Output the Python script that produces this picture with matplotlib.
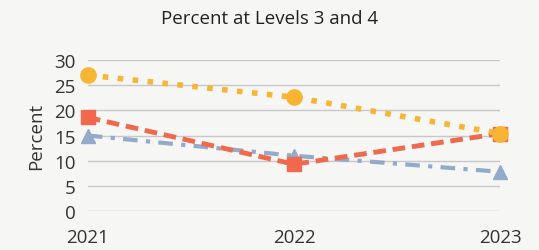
import matplotlib.pyplot as plt

years = ["2021", "2022", "2023"]
orange_vals = [27.0, 22.6, 15.4]
red_vals = [18.6, 9.3, 15.4]
blue_vals = [15.0, 11.0, 7.8]
yticks = [0, 5, 10, 15, 20, 25, 30]

plt.rcParams["font.family"] = ["Open Sans", "DejaVu Sans"]

fig = plt.figure(figsize=(5.39, 2.51), dpi=100, facecolor="#f6f6f5")
ax = fig.add_axes([0.163, 0.155, 0.765, 0.602])
ax.set_facecolor("#f6f6f5")

x = range(len(years))
ax.plot(x, blue_vals, color="#93aacb", lw=3, ls=(0, (3.5, 2, 1, 2)),
        marker="^", ms=10, clip_on=False, zorder=3)
ax.plot(x, red_vals, color="#f0694c", lw=3.5, ls=(0, (2.6, 1.4)),
        marker="s", ms=10, clip_on=False, zorder=4)
ax.plot(x, orange_vals, color="#f8b533", lw=4, ls=(0, (1, 1.7)),
        marker="o", ms=11, clip_on=False, zorder=5)

ax.set_xlim(0, 2)
ax.set_ylim(0, 30)
ax.set_yticks(yticks)
ax.set_xticks(list(x))
ax.set_xticklabels(years)
ax.grid(axis="y", color="#c8c8c8", lw=1)
ax.set_axisbelow(True)
for s in ax.spines.values():
    s.set_visible(False)
ax.tick_params(axis="both", length=0, labelsize=13.5, colors="#333333")
ax.tick_params(axis="y", pad=9)
ax.tick_params(axis="x", pad=12)
ax.set_ylabel("Percent", fontsize=13.5, color="#333333", labelpad=6)
fig.text(0.5, 0.925, "Percent at Levels 3 and 4", ha="center", va="center",
         fontsize=13.5, color="#222222")

fig.savefig("out.png", dpi=100, facecolor=fig.get_facecolor())
